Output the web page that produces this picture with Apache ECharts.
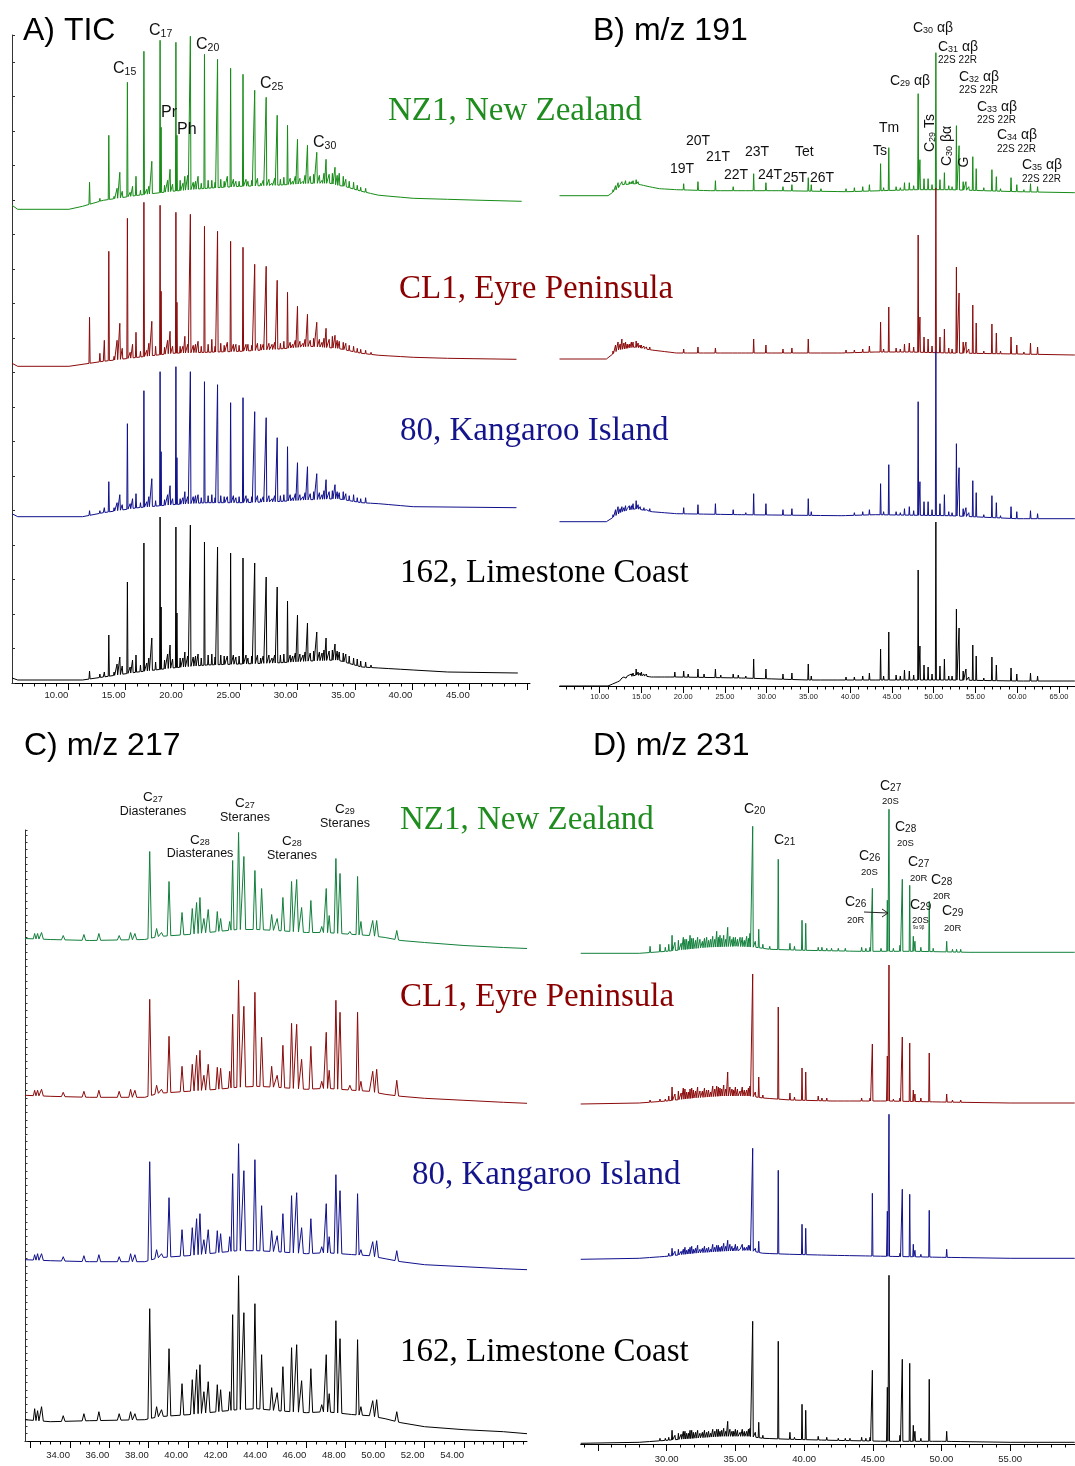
<!DOCTYPE html>
<html><head><meta charset="utf-8">
<script src="https://cdn.jsdelivr.net/npm/echarts@6/dist/echarts.min.js"></script>
<style>html,body{margin:0;padding:0;background:#fff}#c{width:1075px;height:1466px}</style>
</head><body><div id="c"></div><script>
// ---------- Panel A: TIC (retention time, min; apex intensity in display units above each trace zero) ----------
const ticTimes = [11.86, 13.15, 13.54, 14.50, 15.16, 15.91, 16.60, 17.29, 18.01, 18.10, 18.88, 19.39, 19.48, 20.65, 21.88, 23.02, 24.16, 25.24, 26.26, 27.26, 28.22, 29.12, 29.99, 30.86, 31.67, 32.48, 33.26, 33.98, 34.88, 35.93];
const ticNZ1 = [27, 9, 74, 37, 127, 33, 158, 48, 169, 82, 40, 167, 74, 173, 155, 150, 141, 135, 119, 112, 94, 84, 70, 64, 57, 50, 42, 33, 27, 21];
const ticCL1 = [49, 26, 115, 43, 148, 34, 164, 45, 161, 75, 35, 154, 64, 152, 140, 135, 125, 119, 102, 100, 86, 74, 60, 52, 44, 38, 31, 24, 20, 16];
const tic80  = [6, 9, 35, 22, 93, 23, 126, 38, 145, 65, 31, 150, 59, 145, 135, 132, 114, 119, 105, 99, 79, 70, 54, 50, 43, 37, 32, 25, 22, 19];
const tic162 = [9, 8, 45, 23, 98, 25, 137, 42, 163, 73, 35, 153, 67, 155, 138, 133, 127, 122, 117, 103, 93, 79, 65, 57, 48, 42, 36, 27, 22, 18];
const ticMinorTimes = [12.76, 14.26, 14.71, 15.61, 17.03, 17.62, 18.67, 19.76, 20.17, 20.42, 21.32, 22.52, 23.87, 24.62, 25.67, 26.78, 27.77, 29.57, 30.47, 32.13, 33.03, 33.63, 37.08];
const ticMinorNZ1 = [11, 21, 18, 23, 23, 16, 29, 29, 33, 34, 33, 29, 33, 28, 28, 26, 26, 28, 28, 29, 36, 36, 16];
const ticMinorCL1 = [13, 26, 18, 22, 23, 20, 26, 20, 30, 22, 25, 27, 24, 22, 22, 22, 22, 22, 23, 24, 30, 25, 13];
const ticMinor80  = [6, 14, 12, 18, 20, 16, 22, 18, 25, 20, 22, 22, 20, 19, 18, 18, 18, 19, 20, 22, 26, 24, 10];
const ticMinor162 = [6, 16, 14, 20, 22, 18, 26, 22, 28, 24, 26, 26, 24, 23, 22, 22, 22, 24, 25, 27, 30, 28, 11];
const ticGrassTimes = [12.3, 14.0, 15.4, 16.3, 16.85, 18.4, 19.1, 20.0, 20.9, 21.1, 21.6, 22.2, 22.8, 23.3, 23.6, 24.4, 24.9, 25.5, 26.0, 26.5, 27.0, 27.5, 28.0, 28.5, 28.8, 29.35, 29.8, 30.2, 30.65, 31.1, 31.4, 31.9, 32.3, 32.75, 33.45, 34.2, 34.5, 35.2, 35.5, 36.4, 38.0, 39.0];
const ticGrassNZ1 = [5, 13, 17, 19, 20, 24, 25, 26, 27, 28, 26, 29, 27, 30, 28, 30, 28, 30, 29, 31, 29, 30, 31, 30, 32, 31, 33, 31, 34, 33, 35, 34, 36, 35, 34, 30, 28, 24, 22, 17, 14, 12];
const ticGrassCL1 = [4, 10, 14, 15, 16, 19, 20, 20, 21, 22, 20, 22, 20, 23, 21, 22, 21, 22, 21, 23, 22, 23, 24, 23, 25, 24, 26, 25, 27, 26, 28, 27, 28, 27, 26, 23, 21, 18, 17, 14, 12, 10];
const ticGrass80  = [2, 9, 13, 14, 15, 17, 18, 19, 20, 21, 19, 21, 19, 21, 20, 21, 20, 21, 20, 21, 20, 21, 21, 21, 22, 22, 23, 22, 24, 23, 25, 24, 26, 25, 25, 23, 21, 19, 18, 15, 12, 11];
const ticGrass162 = [2, 8, 13, 15, 17, 20, 21, 22, 23, 24, 22, 25, 23, 25, 24, 25, 24, 25, 24, 25, 24, 25, 25, 25, 26, 25, 27, 26, 28, 27, 29, 28, 30, 29, 29, 26, 24, 21, 19, 15, 13, 12];
const ticBaseNZ1 = [[5.1,4],[5.6,0],[10.06,0],[11.25,3],[13.06,9],[16.06,14],[19.06,18],[22.06,21],[25.06,23],[28.07,24],[31.07,26],[32.87,26],[33.47,24],[34.07,23],[35.57,18],[37.08,14],[40.08,11],[43.08,10],[46.08,9],[49.53,8]];
const ticBaseCL1 = [[5.1,3],[5.6,0],[10.06,0],[13.06,5],[16.06,9],[19.06,13],[22.06,14],[25.06,15],[28.07,17],[31.07,20],[33.47,18],[35.57,13],[37.08,11],[40.08,9],[43.08,8],[49.08,7]];
const ticBase80  = [[5.1,3],[5.6,0],[11.25,0],[13.06,4],[16.06,9],[19.06,12],[22.06,14],[25.06,14],[28.07,15],[31.07,17],[33.47,18],[35.57,14],[37.08,13],[40.08,10],[49.08,9]];
const ticBase162 = [[5.1,2],[5.6,0],[11.25,0],[13.06,3],[16.06,8],[19.06,12],[22.06,15],[25.06,16],[28.07,17],[31.07,19],[33.47,20],[35.57,13],[37.08,12],[40.08,10],[43.08,8],[49.2,7]];

// ---------- Panel B: m/z 191 ----------
const b191Times = [12.66, 14.37, 20.06, 21.77, 23.86, 25.99, 28.44, 29.91, 31.95, 33.02, 34.98, 35.34, 42.30, 43.64, 44.62, 46.50, 47.08, 48.14, 48.35, 48.84, 49.33, 50.26, 50.75, 51.28, 52.72, 53.04, 53.53, 53.86, 54.68, 55.09, 56.97, 57.50, 59.26, 59.95, 61.59, 62.44];
const b191NZ1 = [14,16,12,14,15,9,22,13,9,11, 18,11,11,32,48,13,13,102,36,17, 17,143,16,23,70,50,14,14,39,27, 26,19,18,11,12,9];
const b191CL1 = [20,18,10,12,11,8,20,14,10,11, 20,8,13,37,52,15,16,124,42,22, 20,171,22,30,92,66,17,17,54,36, 35,26,22,14,16,12];
const b191K80 = [15,21,14,17,18,12,28,18,12,13, 23,10,12,38,57,13,15,120,40,20, 20,170,18,27,78,54,13,14,41,29, 26,19,15,10,11,8];
const b191L162 = [8,17,15,17,17,12,27,17,12,13, 22,10,13,37,54,16,15,116,40,21, 19,164,20,27,77,58,15,17,41,30, 29,21,18,12,13,10];
const b191MinorTimes = [12.9, 13.3, 13.8, 15.0, 15.6, 16.4, 17.5, 18.5];
const b191MinorNZ1 = [13,12,14,12,11,9,8,8];
const b191MinorCL1 = [16,15,17,14,12,10,9,8];
const b191MinorK80 = [14,13,16,14,12,11,10,9];
const b191MinorL162 = [9,10,12,14,12,11,10,10];
const b191GrassTimes = [11.3, 11.6, 11.9, 12.2, 12.45, 13.1, 13.55, 14.0, 14.6, 14.85, 15.3, 16.0, 16.8, 17.8, 19.0, 20.6, 22.5, 24.5, 26.6, 27.5, 30.6, 36.5, 38.5, 39.5, 40.5, 41.5, 44.0, 45.5, 46.0, 47.6, 49.8, 51.8, 52.2, 54.2, 56.0, 58.0, 60.8];
const b191GrassNZ1 = [2,6,10,13,11,15,14,15,14,13,12,11,9,8,8,7,7,7,7,7,7,7,6,7,8,9,8,9,8,10,11,10,9,9,8,7,6];
const b191GrassCL1 = [3,8,14,17,15,17,15,17,16,14,13,12,10,9,8,8,8,8,8,8,8,8,8,9,9,10,10,11,10,12,13,11,10,10,8,8,7];
const b191GrassK80 = [2,7,12,15,13,16,16,18,17,15,14,13,11,10,10,9,9,9,9,9,8,8,8,8,9,10,10,10,9,11,12,10,9,9,7,6,5];
const b191GrassL162 = [1,2,4,6,7,10,11,13,14,13,12,11,11,11,14,12,12,11,11,10,9,8,8,9,9,10,10,11,10,11,12,10,10,9,8,7,7];
const b191BaseNZ1 = [[5.19,0],[11.0,0],[11.84,5],[12.66,11],[14.37,12],[15.93,9],[17.16,7],[19.2,6],[23.28,5],[31.46,5],[39.64,4],[43.73,5],[47.81,6],[51.9,6],[55.99,5],[60.07,4],[66.9,3]];
const b191BaseCL1 = [[5.19,0],[10.8,0],[12.2,9],[14.2,12],[16.2,9],[19.2,6],[27,6],[39,6],[43,7],[47,7],[51.9,6],[60,5],[66.9,4]];
const b191BaseK80 = [[5.19,0],[10.8,0],[12.66,10],[14.37,13],[16.2,10],[19.2,8],[27,7],[39,6],[43,7],[51.9,6],[60,3],[66.9,3]];
const b191BaseL162 = [[5.19,0],[11.0,0],[13.2,8],[14.37,11],[16.2,9],[19.2,9],[27,8],[35,6],[43,6],[51.9,6],[60,5],[66.9,5]];

// ---------- Panel C: m/z 217 ----------
const c217Times = [32.21, 32.36, 32.56, 33.66, 34.71, 35.47, 36.50, 37.08, 37.30, 38.05, 38.40, 38.65, 39.03, 39.69, 40.21, 40.43, 40.60, 40.80, 41.02, 41.48, 41.65, 42.11, 42.26, 42.56, 42.83, 43.39, 43.73, 44.24, 44.52, 44.81, 45.25, 45.51, 45.76, 46.23, 46.78, 47.01, 47.16, 47.50, 47.71, 48.21, 48.60, 48.77, 49.37, 49.57, 50.59];
const c217NZ1 = [7,7,8,5,6,7,5,8,7, 89,12,8, 59,28,32,38,43,22,31,29,22,19, 80,108,84,70,52,26,22,43,59,61,33,40,14, 52,25,82,67,9,64,19,20,20,10];
const c217CL1 = [7,7,8,5,6,7,6,8,7, 98,12,8, 61,31,33,42,47,22,33,30,29,26, 83,117,91,105,60,31,22,52,74,73,38,51,16, 65,27,97,85,12,85,16,26,28,17];
const c217K80 = [7,8,8,5,6,7,5,8,7, 100,12,8, 64,32,34,43,48,22,32,31,28,25, 88,118,91,102,56,31,26,48,66,69,34,43,15, 58,25,87,71,8,68,12,20,21,11];
const c217L162 = [13,11,15,6,8,10,8,10,8, 113,15,12, 73,38,42,52,57,30,40,37,32,30, 107,146,109,118,67,34,29,55,74,77,41,53,17, 67,28,101,83,9,82,15,21,22,10];
const c217BaseNZ1 = [[31.72,2],[33,1],[35,0],[37.8,1],[38.5,4],[40,6],[41.5,9],[42.5,11],[43.5,11],[44.5,10],[46,8],[47,8],[48.4,6],[49.2,5],[50,3],[50.8,0],[52,-2],[54,-5],[56,-7],[57.2,-8]];
const c217BaseCL1 = [[31.72,2],[33,1],[35,0],[37.8,0],[38.5,4],[40,6],[41.5,8],[42.5,10],[43.5,11],[44.5,10],[46,8],[47,9],[48.4,7],[49.2,6],[50,3],[50.8,1],[52,-1],[54,-3],[56,-5],[57.2,-6]];
const c217BaseK80 = [[31.72,2],[33,1],[35,0],[37.8,0],[38.5,4],[40,6],[41.5,9],[42.5,11],[43.5,11],[44.5,10],[46,8],[47,9],[48.4,7],[49.2,6],[50,3],[50.8,0],[52,-3],[54,-5],[56,-7],[57.2,-8]];
const c217BaseL162 = [[31.72,2],[33,0],[35,1],[37.8,2],[38.5,5],[40,7],[41.5,10],[42.5,12],[43.5,13],[44.5,11],[46,9],[47,10],[48.4,7],[49.2,6],[50,3],[50.8,-1],[52,-5],[54,-8],[56,-10],[57.2,-12]];

// ---------- Panel D: m/z 231 ----------
const d231Times = [28.79, 29.51, 30.39, 31.21, 31.45, 31.70, 31.94, 32.42, 32.91, 33.20, 33.64, 33.88, 34.44, 34.85, 35.34, 35.82, 36.06, 36.26, 36.70, 38.12, 38.97, 39.85, 40.12, 41.03, 41.65, 42.49, 43.34, 44.19, 44.80, 44.97, 46.06, 46.18, 46.98, 47.15, 47.69, 47.95, 48.07, 49.11, 49.40, 50.38, 51.10];
const d231NZ1 = [7,9,18,16,14,18,15,14,16,14, 22,18,26,16,16,17,20,127,24,94, 10,33,30,6,5,5,4,6,6,65, 53,144,8,74,68,17,12,52,5,12, 4];
const d231CL1 = [4,5,17,16,12,15,14,13,14,12, 18,16,32,14,13,14,18,130,27,97, 11,36,32,8,6,5,4,6,6,60, 48,139,6,67,61,14,10,51,4,10, 3];
const d231K80 = [3,4,11,10,9,12,10,10,11,10, 14,12,19,11,10,12,14,111,18,89, 7,35,31,6,5,4,4,5,5,66, 48,145,6,70,65,15,9,49,4,10, 3];
const d231L162 = [3,5,13,12,10,13,11,10,11,10, 14,12,22,12,11,12,15,122,21,102, 11,39,33,7,6,5,5,6,6,73, 56,168,8,84,80,18,12,64,4,12, 3];
const d231GrassTimes = [29.9, 30.15, 30.6, 30.85, 31.05, 31.33, 31.58, 31.82, 32.1, 32.25, 32.6, 32.75, 33.05, 33.35, 33.5, 33.76, 34.0, 34.15, 34.3, 34.6, 34.75, 35.0, 35.15, 35.5, 35.65, 35.95, 36.45, 37.0, 37.5, 39.3, 41.3, 42.0, 43.0, 44.5, 45.6, 46.5, 48.5, 50.8, 51.4];
const d231GrassNZ1 = [6,9,11,13,10,14,12,15,13,16,12,15,13,17,14,16,15,18,14,17,14,16,14,16,13,15,12,9,7,7,6,5,5,5,5,5,6,4,4];
const d231GrassCL1 = [5,8,10,13,11,15,12,16,13,17,13,16,14,18,15,17,15,19,15,17,15,17,15,17,14,16,12,9,7,7,6,5,5,5,5,5,6,4,4];
const d231GrassK80 = [4,6,8,10,8,12,10,13,11,14,11,13,12,15,12,14,13,16,13,15,13,15,13,15,12,14,11,8,6,6,5,5,5,5,4,4,5,3,3];
const d231GrassL162 = [5,6,8,10,9,12,10,13,11,13,11,13,12,14,12,14,13,15,12,14,12,14,13,14,12,14,11,8,6,6,5,5,5,5,4,4,5,3,3];
const d231BaseNZ1 = [[23.74,0],[28,0],[30,2],[31.5,4],[33,6],[35,7],[36.5,6],[37.5,4],[40,3],[44,2],[48,2],[52,1],[59.7,1]];
const d231BaseCL1 = [[23.74,0],[28,1],[30,3],[32,6],[34,8],[36,8],[37,6],[39,4],[42,3],[46,3],[50,2],[55,1],[59.7,1]];
const d231BaseK80 = [[23.74,0],[28,1],[30,3],[32,6],[34,8],[36,9],[37,6],[39,5],[42,4],[46,3],[50,2],[55,1],[59.7,1]];
const d231BaseL162 = [[23.74,0],[28,1],[30,3],[32,5],[34,7],[36,7],[37,5],[39,4],[42,3],[46,2],[50,2],[55,1],[59.7,1]];

const sampleNames = ['NZ1, New Zealand', 'CL1, Eyre Peninsula', '80, Kangaroo Island', '162, Limestone Coast'];

// ---------- helpers ----------
function range(a, b, step) { const out = []; const n = Math.round((b - a) / step); for (let i = 0; i <= n; i++) out.push(+(a + i * step).toFixed(3)); return out; }
function baseAt(bl, t) {
  if (t <= bl[0][0]) return bl[0][1];
  for (let i = 1; i < bl.length; i++) {
    if (t <= bl[i][0]) { const [t0, v0] = bl[i - 1], [t1, v1] = bl[i]; return v0 + (v1 - v0) * (t - t0) / (t1 - t0); }
  }
  return bl[bl.length - 1][1];
}
function buildTrace(bl, sets, wMax) {
  const peaks = [];
  sets.forEach(([ts, hs]) => ts.forEach((t, i) => peaks.push([t, hs[i]])));
  peaks.sort((a, b) => a[0] - b[0]);
  const pts = [], iv = [];
  peaks.forEach((p, i) => {
    const prev = i > 0 ? peaks[i - 1][0] : -1e9, next = i < peaks.length - 1 ? peaks[i + 1][0] : 1e9;
    const w = Math.min(wMax, (p[0] - prev) * 0.45, (next - p[0]) * 0.45);
    const l = p[0] - w, r = p[0] + w;
    iv.push([l, r]);
    pts.push([l, baseAt(bl, l)], [p[0], Math.max(p[1], baseAt(bl, p[0]))], [r, baseAt(bl, r)]);
  });
  bl.forEach(b => { if (!iv.some(([l, r]) => b[0] >= l && b[0] <= r)) pts.push(b.slice()); });
  pts.sort((a, b) => a[0] - b[0]);
  return pts;
}

const green1 = '#168c16', green2 = '#12803c', red = '#8b0a0a', blue = '#10108c', black = '#000000';
const PANELS = [
  { left: 12, width: 518, axisY: 683, yTop: 35, xMin: 5.1, xMax: 50.26, zeros: [209.3, 366.3, 516.7, 680], hTop: 195, w: 0.05,
    colors: [green1, red, blue, black],
    traces: [[ticBaseNZ1, [[ticTimes, ticNZ1], [ticMinorTimes, ticMinorNZ1], [ticGrassTimes, ticGrassNZ1]]],
             [ticBaseCL1, [[ticTimes, ticCL1], [ticMinorTimes, ticMinorCL1], [ticGrassTimes, ticGrassCL1]]],
             [ticBase80, [[ticTimes, tic80], [ticMinorTimes, ticMinor80], [ticGrassTimes, ticGrass80]]],
             [ticBase162, [[ticTimes, tic162], [ticMinorTimes, ticMinor162], [ticGrassTimes, ticGrass162]]]],
    major: range(10, 50, 5), labels: range(10, 45, 5), minor: range(6, 50, 1), align: 'right', fs: 9.5, margin: 7, yAx: { interval: 34.5, len: 3 } },
  { left: 559.5, width: 515.5, axisY: 686, xMin: 5.19, xMax: 66.92, zeros: [195.7, 359, 521.7, 686], hTop: 190, w: 0.06,
    colors: [green1, red, blue, black],
    traces: [[b191BaseNZ1, [[b191Times, b191NZ1], [b191MinorTimes, b191MinorNZ1], [b191GrassTimes, b191GrassNZ1]]],
             [b191BaseCL1, [[b191Times, b191CL1], [b191MinorTimes, b191MinorCL1], [b191GrassTimes, b191GrassCL1]]],
             [b191BaseK80, [[b191Times, b191K80], [b191MinorTimes, b191MinorK80], [b191GrassTimes, b191GrassK80]]],
             [b191BaseL162, [[b191Times, b191L162], [b191MinorTimes, b191MinorL162], [b191GrassTimes, b191GrassL162]]]],
    major: range(10, 65, 5), labels: range(10, 65, 5), minor: range(6, 66, 1), align: 'center', fs: 7.5, margin: 7 },
  { left: 25, width: 502, axisY: 1441, yTop: 830, xMin: 31.72, xMax: 57.2, zeros: [940.5, 1097.3, 1261.7, 1421.7], hTop: 175, w: 0.09,
    colors: [green2, red, blue, black],
    traces: [[c217BaseNZ1, [[c217Times, c217NZ1]]], [c217BaseCL1, [[c217Times, c217CL1]]], [c217BaseK80, [[c217Times, c217K80]]], [c217BaseL162, [[c217Times, c217L162]]]],
    major: range(32, 56, 2), labels: range(34, 54, 2), minor: range(32, 57, 0.5), align: 'right', fs: 9.5, margin: 9, yAx: { interval: 7.3, len: 2.5 } },
  { left: 580.7, width: 494.3, axisY: 1444, xMin: 23.74, xMax: 59.72, zeros: [953.3, 1104, 1259.3, 1443.3], hTop: 185, w: 0.04,
    colors: [green2, red, blue, black],
    traces: [[d231BaseNZ1, [[d231Times, d231NZ1], [d231GrassTimes, d231GrassNZ1]]], [d231BaseCL1, [[d231Times, d231CL1], [d231GrassTimes, d231GrassCL1]]],
             [d231BaseK80, [[d231Times, d231K80], [d231GrassTimes, d231GrassK80]]], [d231BaseL162, [[d231Times, d231L162], [d231GrassTimes, d231GrassL162]]]],
    major: range(25, 55, 5), labels: range(30, 55, 5), minor: range(24, 59, 1), align: 'center', fs: 9.5, margin: 10 }
];

const grid = [], xAxis = [], yAxis = [], series = [];
PANELS.forEach(p => {
  const gi = grid.length;
  const top = p.yTop != null ? p.yTop : p.axisY - 60;
  grid.push({ left: p.left, width: p.width, top: top, height: p.axisY - top });
  xAxis.push({ gridIndex: gi, type: 'value', min: p.xMin, max: p.xMax, position: 'bottom',
    axisLine: { show: true, lineStyle: { color: '#000', width: 1 } },
    axisTick: { show: true, customValues: p.major, length: 7, lineStyle: { color: '#000' } },
    axisLabel: { show: true, customValues: p.labels, formatter: v => v.toFixed(2), align: p.align, fontSize: p.fs, color: '#222', fontFamily: 'Liberation Sans', margin: p.margin },
    splitLine: { show: false } });
  xAxis.push({ gridIndex: gi, type: 'value', min: p.xMin, max: p.xMax, position: 'bottom', offset: 0,
    axisLine: { show: false }, axisTick: { show: true, customValues: p.minor, length: 3.5, lineStyle: { color: '#000' } },
    axisLabel: { show: false }, splitLine: { show: false } });
  if (p.yAx) {
    yAxis.push({ gridIndex: gi, type: 'value', min: 0, max: p.axisY - top, interval: p.yAx.interval,
      axisLine: { show: true, lineStyle: { color: '#333' } }, axisTick: { show: true, inside: true, length: p.yAx.len, lineStyle: { color: '#333' } },
      axisLabel: { show: false }, splitLine: { show: false } });
  } else {
    yAxis.push({ gridIndex: gi, type: 'value', min: 0, max: 1, show: false });
  }
  p.traces.forEach((tr, k) => {
    const g = grid.length;
    const z = p.zeros[k];
    grid.push({ left: p.left, width: p.width, top: z - p.hTop, height: p.hTop + 20 });
    xAxis.push({ gridIndex: g, type: 'value', min: p.xMin, max: p.xMax, show: false });
    yAxis.push({ gridIndex: g, type: 'value', min: -20, max: p.hTop, show: false });
    series.push({ type: 'line', xAxisIndex: xAxis.length - 1, yAxisIndex: yAxis.length - 1, data: buildTrace(tr[0], tr[1], p.w),
      showSymbol: false, symbol: 'none', lineStyle: { color: p.colors[k], width: 1 }, itemStyle: { color: p.colors[k] }, silent: true, animation: false, z: 3 });
  });
});

// ---------- text ----------
const SANS = 'Liberation Sans', SERIF = 'Liberation Serif';
const graphic = [];
function txt(x, y, text, size, color, align, font, extra) {
  graphic.push(Object.assign({ type: 'text', x: x, y: y, z: 100,
    style: { text: text, fontSize: size, fontFamily: font || SANS, fill: color || '#111', textAlign: align || 'left', textVerticalAlign: 'middle' } }, extra || {}));
}
function chem(x, y, main, sub, rest, ms, ss, align, rot) {
  graphic.push({ type: 'text', x: x, y: y, z: 100, rotation: rot || 0,
    style: { text: '{m|' + main + '}{s|' + sub + '}' + (rest ? '{m|' + rest + '}' : ''), fill: '#111', textAlign: align || 'left', textVerticalAlign: 'middle',
      rich: { m: { fontSize: ms, fontFamily: SANS, lineHeight: ms + 1, fill: '#111' }, s: { fontSize: ss, fontFamily: SANS, lineHeight: 6, verticalAlign: 'bottom', fill: '#111' } } } });
}
txt(23, 31, 'A) TIC', 32, '#000');
txt(593, 31, 'B) m/z 191', 32, '#000');
txt(24, 746, 'C) m/z 217', 32, '#000');
txt(593, 746, 'D) m/z 231', 32, '#000');
const labCols = ['#1e8c1e', '#8b0000', '#14148c', '#000'];
[[388, 111], [399, 289], [400, 431], [400, 573]].forEach((p, i) => txt(p[0], p[1], sampleNames[i], 33, labCols[i], 'left', SERIF));
[[400, 820], [400, 997], [412, 1175], [400, 1352]].forEach((p, i) => txt(p[0], p[1], sampleNames[i], 33, labCols[i], 'left', SERIF));
chem(113, 69, 'C', '15', '', 16, 10.5);
chem(149, 31, 'C', '17', '', 16, 10.5);
chem(196, 45, 'C', '20', '', 16, 10.5);
chem(260, 84, 'C', '25', '', 16, 10.5);
chem(313, 143, 'C', '30', '', 16, 10.5);
txt(161, 113, 'Pr', 16);
txt(177, 130, 'Ph', 16);
chem(913, 28, 'C', '30', ' αβ', 14, 9);
chem(938, 47, 'C', '31', ' αβ', 14, 9); txt(938, 60.5, '22S 22R', 10);
chem(959, 77, 'C', '32', ' αβ', 14, 9); txt(959, 90, '22S 22R', 10);
chem(977, 107, 'C', '33', ' αβ', 14, 9); txt(977, 120, '22S 22R', 10);
chem(997, 135, 'C', '34', ' αβ', 14, 9); txt(997, 149, '22S 22R', 10);
chem(1022, 165, 'C', '35', ' αβ', 14, 9); txt(1022, 179, '22S 22R', 10);
chem(890, 81, 'C', '29', ' αβ', 14, 9);
txt(879, 128, 'Tm', 14); txt(873, 151, 'Ts', 14);
chem(930, 133, 'C', '29', ' Ts', 14, 9, 'center', Math.PI / 2);
chem(947, 146, 'C', '30', ' βα', 14, 9, 'center', Math.PI / 2);
txt(964, 162, 'G', 14, '#111', 'center', SANS, { rotation: Math.PI / 2 });
[['19T', 670, 169], ['20T', 686, 141], ['21T', 706, 157], ['22T', 724, 175], ['23T', 745, 152], ['24T', 758, 175], ['25T', 783, 178], ['26T', 810, 178], ['Tet', 795, 152]]
  .forEach(a => txt(a[1], a[2], a[0], 14));
[[153, 797, '27', 'Diasteranes', 812], [200, 840, '28', 'Diasteranes', 854], [245, 803, '27', 'Steranes', 818], [292, 841, '28', 'Steranes', 856], [345, 809, '29', 'Steranes', 824]]
  .forEach(a => { chem(a[0], a[1], 'C', a[2], '', 13.5, 9, 'center'); txt(a[0], a[4], a[3], 12.5, '#111', 'center'); });
chem(744, 809, 'C', '20', '', 14, 10);
chem(774, 840, 'C', '21', '', 14, 10);
[[880, 786, '27', '20S', 801], [895, 827, '28', '20S', 843], [859, 856, '26', '20S', 872], [908, 862, '27', '20R', 878], [931, 880, '28', '20R', 896], [845, 902, '26', '20R', 920], [910, 905, '29', '20S', 920], [942, 911, '29', '20R', 928]]
  .forEach(a => { chem(a[0], a[1], 'C', a[2], '', 14, 10); txt(a[0] + 2, a[4], a[3], 9.5); });
txt(913, 928, '9α 9β', 4.5);
graphic.push({ type: 'line', z: 100, shape: { x1: 864, y1: 912, x2: 888, y2: 913 }, style: { stroke: '#222', lineWidth: 1 } });
graphic.push({ type: 'polyline', z: 100, shape: { points: [[882, 909], [888, 913], [882, 917]] }, style: { stroke: '#222', fill: null, lineWidth: 1 } });

const chart = echarts.init(document.getElementById('c'), null, { renderer: 'canvas' });
chart.setOption({ animation: false, backgroundColor: '#ffffff', grid, xAxis, yAxis, series, graphic });
</script></body></html>
